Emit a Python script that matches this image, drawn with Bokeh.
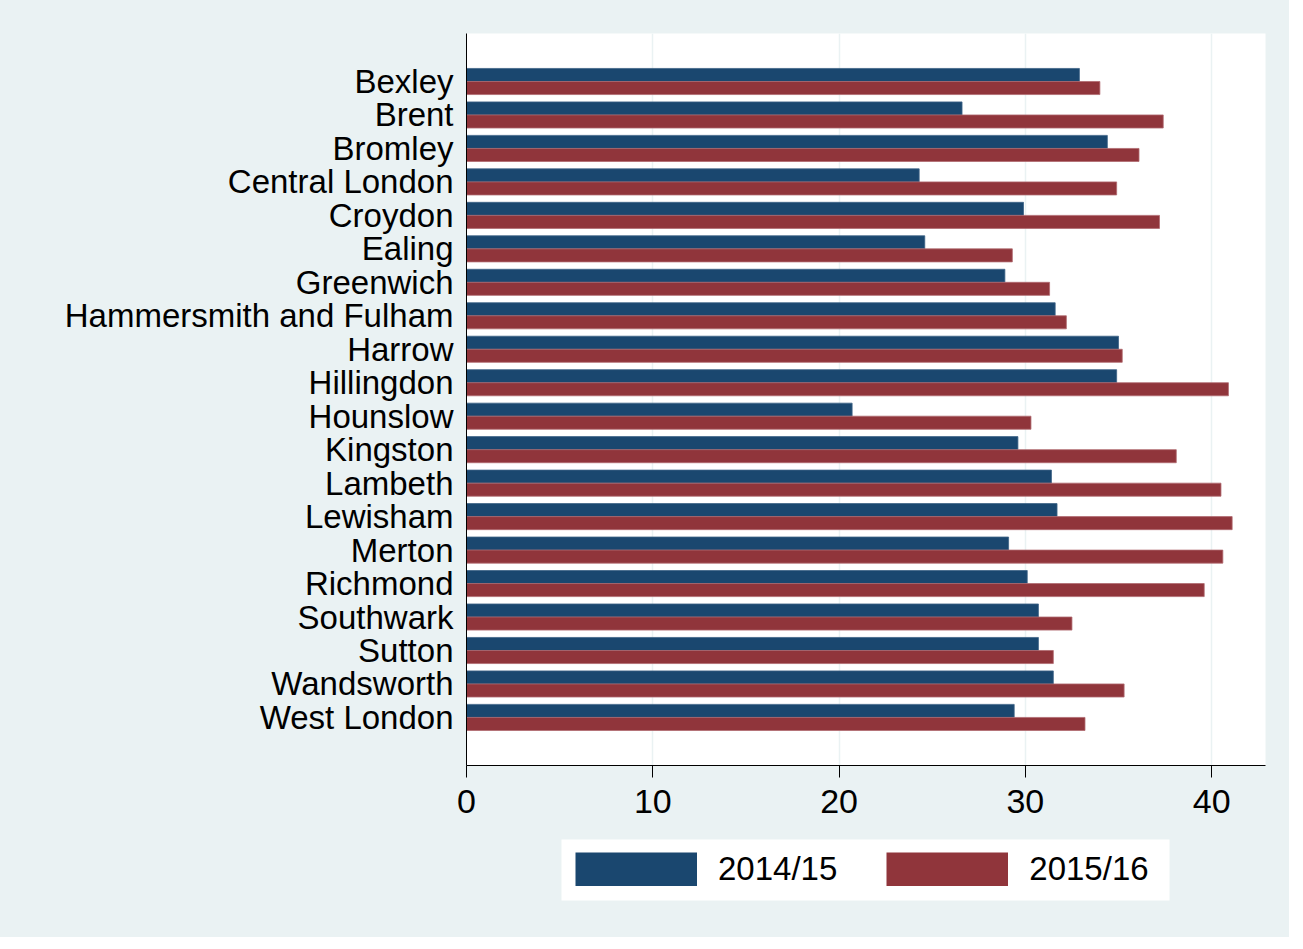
from bokeh.plotting import figure
from bokeh.layouts import column
from bokeh.models import (Range1d, FixedTicker, Legend, LegendItem, ColumnDataSource,
                          BoxAnnotation)
from bokeh.embed import file_html
from bokeh.resources import INLINE

categories = ["Bexley", "Brent", "Bromley", "Central London", "Croydon", "Ealing",
              "Greenwich", "Hammersmith and Fulham", "Harrow", "Hillingdon", "Hounslow",
              "Kingston", "Lambeth", "Lewisham", "Merton", "Richmond", "Southwark",
              "Sutton", "Wandsworth", "West London"]
v_2014_15 = [32.9, 26.6, 34.4, 24.3, 29.9, 24.6, 28.9, 31.6, 35.0, 34.9, 20.7,
             29.6, 31.4, 31.7, 29.1, 30.1, 30.7, 30.7, 31.5, 29.4]
v_2015_16 = [34.0, 37.4, 36.1, 34.9, 37.2, 29.3, 31.3, 32.2, 35.2, 40.9, 30.3,
             38.1, 40.5, 41.1, 40.6, 39.6, 32.5, 31.5, 35.3, 33.2]
series_labels = ["2014/15", "2015/16"]
x_ticks = [0, 10, 20, 30, 40]

BLUE = "#1A476F"
RED = "#90353B"
BLUE_EDGE = "#3d6387"
RED_EDGE = "#b06a70"
BG = "#EAF2F3"
FONT = "Liberation Sans"

idx = list(range(len(categories)))
bar_h = 0.39
src1 = ColumnDataSource(dict(y=[i - bar_h / 2 for i in idx], right=v_2014_15))
src2 = ColumnDataSource(dict(y=[i + bar_h / 2 for i in idx], right=v_2015_16))

W = 1289
H1 = 837
H2 = 100
LEFT = 466
RIGHT = 24

p = figure(width=W, height=H1, output_backend="svg", toolbar_location=None,
           x_range=Range1d(0, 42.89), y_range=Range1d(20.436, -1.434),
           min_border_left=LEFT, min_border_right=RIGHT, min_border_top=33,
           min_border_bottom=H1 - 33 - 732)
p.background_fill_color = "white"
p.border_fill_color = BG
p.outline_line_color = None

p.hbar(y="y", right="right", left=0, height=bar_h, source=src1,
       fill_color=BLUE, line_color=BLUE_EDGE, line_width=0.8)
p.hbar(y="y", right="right", left=0, height=bar_h, source=src2,
       fill_color=RED, line_color=RED_EDGE, line_width=0.8)

# x axis
p.xaxis.ticker = FixedTicker(ticks=x_ticks)
p.xaxis.major_tick_out = 12
p.xaxis.major_tick_in = 0
p.xaxis.minor_tick_out = 0
p.xaxis.minor_tick_in = 0
p.xaxis.axis_line_color = "black"
p.xaxis.major_tick_line_color = "black"
p.xaxis.major_label_text_font = FONT
p.xaxis.major_label_text_font_size = "34px"
p.xaxis.major_label_text_color = "black"
p.xaxis.major_label_standoff = 12

# y axis
p.yaxis.ticker = FixedTicker(ticks=idx)
p.yaxis.major_label_overrides = {i: c for i, c in zip(idx, categories)}
p.yaxis.major_tick_out = 0
p.yaxis.major_tick_in = 0
p.yaxis.minor_tick_out = 0
p.yaxis.minor_tick_in = 0
p.yaxis.axis_line_color = "black"
p.yaxis.major_label_text_font = FONT
p.yaxis.major_label_text_font_size = "33px"
p.yaxis.major_label_text_color = "black"
p.yaxis.major_label_standoff = 13

p.xgrid.ticker = FixedTicker(ticks=x_ticks[1:])
p.xgrid.grid_line_color = BG
p.xgrid.grid_line_width = 1.5
p.ygrid.grid_line_color = None

# legend strip below (same data, outside its visible range, only feeds the legend swatches)
q = figure(width=W, height=H2, output_backend="svg", toolbar_location=None,
           x_range=Range1d(0, 1), y_range=Range1d(1000, 1001),
           min_border_left=LEFT, min_border_right=RIGHT, min_border_top=0,
           min_border_bottom=0)
q.axis.visible = False
q.grid.visible = False
q.background_fill_alpha = 0
q.border_fill_color = BG
q.outline_line_color = None

# white legend box (screen units relative to the frame, y measured upward)
q.add_layout(BoxAnnotation(left=95, right=703, top=98, bottom=37,
                           left_units="screen", right_units="screen",
                           top_units="screen", bottom_units="screen",
                           fill_color="white", fill_alpha=1, line_color=None,
                           level="underlay"))

l1 = q.line(x="right", y="y", source=src1, line_color=BLUE, line_width=34, line_cap="butt")
l2 = q.line(x="right", y="y", source=src2, line_color=RED, line_width=34, line_cap="butt")

legend = Legend(items=[LegendItem(label=series_labels[0], renderers=[l1]),
                       LegendItem(label=series_labels[1], renderers=[l2])],
                orientation="horizontal", location=(575 - LEFT, 49),
                glyph_width=122, glyph_height=34, label_standoff=21, spacing=49,
                padding=0, margin=0, border_line_color=None,
                background_fill_alpha=0,
                label_text_font=FONT, label_text_font_size="33px",
                label_text_color="black")
q.add_layout(legend, "center")

open("out.html", "w").write(file_html(column(p, q, spacing=0, styles={"background-color": BG}), INLINE))
